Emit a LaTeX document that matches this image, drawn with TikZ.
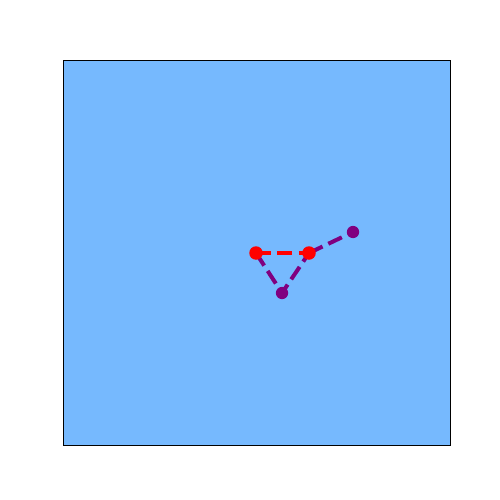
\documentclass[tikz,border=0pt]{standalone}
\definecolor{bgblue}{HTML}{76B9FE}
\definecolor{mpurple}{HTML}{800080}
\begin{document}
\begin{tikzpicture}[x=1pt,y=-1pt,
  edge/.style={line width=4pt,dash pattern=on 15pt off 6.4pt},
  rdot/.style={circle,fill=red,inner sep=0pt,minimum size=13.5pt},
  pdot/.style={circle,fill=mpurple,inner sep=0pt,minimum size=12.3pt}]
\useasboundingbox (0,0) rectangle (500,500);
\filldraw[fill=bgblue,draw=black,line width=1pt] (63.5,60.5) rectangle (450.5,445);
\coordinate (a) at (256,253);
\coordinate (b) at (309,253);
\coordinate (c) at (282,293);
\coordinate (d) at (353,232);
\draw[edge,mpurple] (a) -- (c) -- (b);
\draw[edge,mpurple] (b) -- (d);
\node[pdot] (pc) at (c) {};
\node[pdot] (pd) at (d) {};
\draw[edge,red] (a) -- (b);
\node[rdot] (ra) at (a) {};
\node[rdot] (rb) at (b) {};
\end{tikzpicture}
\end{document}
